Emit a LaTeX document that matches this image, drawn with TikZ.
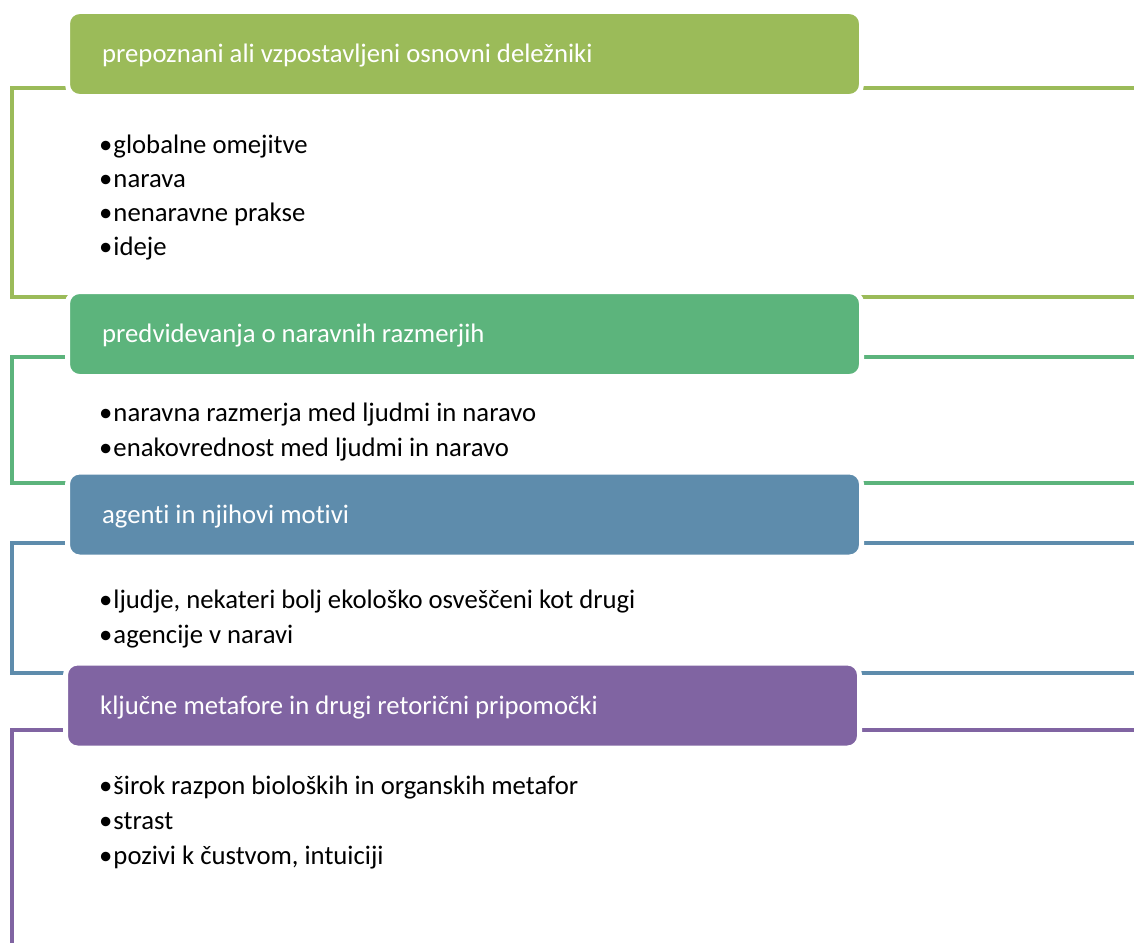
\documentclass[tikz,border=0pt]{standalone}
\usepackage{fontspec}
\setmainfont[Ligatures={NoCommon}]{Carlito}
\definecolor{cA}{HTML}{9BBB59}
\definecolor{cB}{HTML}{5CB47C}
\definecolor{cC}{HTML}{5E8CAC}
\definecolor{cD}{HTML}{8064A2}
\newcommand{\bul}{•\kern1pt}
\tikzset{
  hbox/.style={rectangle, rounded corners=12pt, draw=white, line width=5pt,
    minimum width=794pt, minimum height=85pt, inner sep=0pt},
  htext/.style={anchor=base west, inner sep=0pt, text=white,
    font=\fontsize{26.7}{34}\selectfont},
  btext/.style={anchor=base west, inner sep=0pt, text=black,
    font=\fontsize{26.7}{34}\selectfont},
  brk/.style={line width=4.5pt, line join=miter}
}
\begin{document}
\begin{tikzpicture}[x=1pt,y=-1pt]
\useasboundingbox (0,0) rectangle (1134,942);
\clip (0,0) rectangle (1134,942);
% brackets
\coordinate (a1) at (1140,88);  \coordinate (a2) at (12,297); \coordinate (a3) at (1140,297);
\coordinate (b1) at (1140,357); \coordinate (b2) at (12,483); \coordinate (b3) at (1140,483);
\coordinate (c1) at (1140,543); \coordinate (c2) at (12,673); \coordinate (c3) at (1140,673);
\coordinate (d1) at (1140,730); \coordinate (d2) at (12,960);
\draw[brk, cA] (a1) -| (a2) -- (a3);
\draw[brk, cB] (b1) -| (b2) -- (b3);
\draw[brk, cC] (c1) -| (c2) -- (c3);
\draw[brk, cD] (d1) -| (d2);
% header boxes
\node[hbox, fill=cA] (h1) at (464.5,54) {};
\node[hbox, fill=cB] (h2) at (464.5,334) {};
\node[hbox, fill=cC] (h3) at (464.5,514.5) {};
\node[hbox, fill=cD] (h4) at (462.5,705.5) {};
% header texts
\node[htext] (t1) at (102,62.5) {prepoznani ali vzpostavljeni osnovni deležniki};
\node[htext] (t2) at (102,342.5) {predvidevanja o naravnih razmerjih};
\node[htext] (t3) at (102,523) {agenti in njihovi motivi};
\node[htext] (t4) at (100,714) {ključne metafore in drugi retorični pripomočki};
% bullets
\node[btext] (l11) at (99,153) {\bul globalne omejitve};
\node[btext] (l12) at (99,187.5) {\bul narava};
\node[btext] (l13) at (99,221.5) {\bul nenaravne prakse};
\node[btext] (l14) at (99,255.5) {\bul ideje};
\node[btext] (l21) at (99,421) {\bul naravna razmerja med ljudmi in naravo};
\node[btext] (l22) at (99,456) {\bul enakovrednost med ljudmi in naravo};
\node[btext] (l31) at (99,608) {\bul ljudje, nekateri bolj ekološko osveščeni kot drugi};
\node[btext] (l32) at (99,643) {\bul agencije v naravi};
\node[btext] (l41) at (99,794) {\bul širok razpon bioloških in organskih metafor};
\node[btext] (l42) at (99,829) {\bul strast};
\node[btext] (l43) at (99,864) {\bul pozivi k čustvom, intuiciji};
\end{tikzpicture}
\end{document}
